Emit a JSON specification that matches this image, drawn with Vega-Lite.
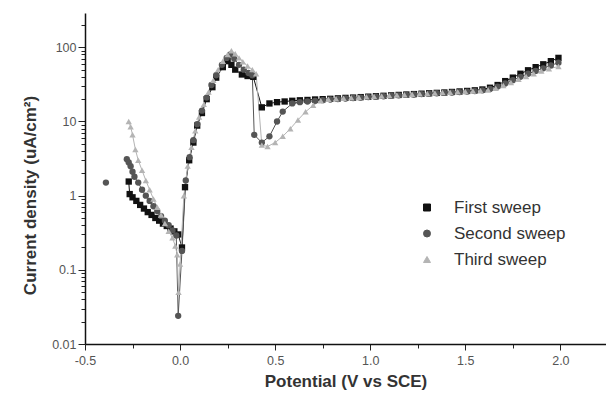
{
  "$schema": "https://vega.github.io/schema/vega-lite/v6.json",
  "width": 521,
  "height": 331,
  "autosize": {"type": "none"},
  "padding": {"left": 85, "top": 13, "right": 0, "bottom": 53},
  "background": "white",
  "view": {"stroke": null},
  "config": {"font": "Liberation Sans"},
  "data": {"values": [
    {"series":"First sweep","seg":"a","potential":-0.27,"current":1.55},
    {"series":"First sweep","seg":"a","potential":-0.265,"current":1.05},
    {"series":"First sweep","seg":"a","potential":-0.25,"current":0.95},
    {"series":"First sweep","seg":"a","potential":-0.23,"current":0.85},
    {"series":"First sweep","seg":"a","potential":-0.21,"current":0.75},
    {"series":"First sweep","seg":"a","potential":-0.19,"current":0.67},
    {"series":"First sweep","seg":"a","potential":-0.17,"current":0.6},
    {"series":"First sweep","seg":"a","potential":-0.15,"current":0.55},
    {"series":"First sweep","seg":"a","potential":-0.13,"current":0.5},
    {"series":"First sweep","seg":"a","potential":-0.11,"current":0.46},
    {"series":"First sweep","seg":"a","potential":-0.09,"current":0.42},
    {"series":"First sweep","seg":"a","potential":-0.07,"current":0.39},
    {"series":"First sweep","seg":"a","potential":-0.05,"current":0.36},
    {"series":"First sweep","seg":"a","potential":-0.03,"current":0.33},
    {"series":"First sweep","seg":"a","potential":-0.01,"current":0.3},
    {"series":"First sweep","seg":"a","potential":0.01,"current":0.2},
    {"series":"First sweep","seg":"a","potential":0.026,"current":1.3},
    {"series":"First sweep","seg":"a","potential":0.048,"current":3.0},
    {"series":"First sweep","seg":"a","potential":0.07,"current":5.2},
    {"series":"First sweep","seg":"a","potential":0.09,"current":8.8},
    {"series":"First sweep","seg":"a","potential":0.115,"current":13},
    {"series":"First sweep","seg":"a","potential":0.14,"current":20},
    {"series":"First sweep","seg":"a","potential":0.17,"current":29},
    {"series":"First sweep","seg":"a","potential":0.19,"current":39},
    {"series":"First sweep","seg":"a","potential":0.225,"current":54},
    {"series":"First sweep","seg":"a","potential":0.25,"current":65},
    {"series":"First sweep","seg":"a","potential":0.27,"current":58},
    {"series":"First sweep","seg":"a","potential":0.29,"current":50},
    {"series":"First sweep","seg":"a","potential":0.325,"current":43},
    {"series":"First sweep","seg":"a","potential":0.355,"current":41},
    {"series":"First sweep","seg":"a","potential":0.385,"current":40},
    {"series":"First sweep","seg":"a","potential":0.43,"current":15.5},
    {"series":"First sweep","seg":"a","potential":0.47,"current":17.5},
    {"series":"First sweep","seg":"a","potential":0.51,"current":18.2},
    {"series":"First sweep","seg":"a","potential":0.55,"current":18.6},
    {"series":"First sweep","seg":"a","potential":0.59,"current":19},
    {"series":"First sweep","seg":"a","potential":0.63,"current":19.3},
    {"series":"First sweep","seg":"a","potential":0.67,"current":19.5},
    {"series":"First sweep","seg":"a","potential":0.71,"current":19.8},
    {"series":"First sweep","seg":"a","potential":0.75,"current":20},
    {"series":"First sweep","seg":"a","potential":0.79,"current":20.2},
    {"series":"First sweep","seg":"a","potential":0.83,"current":20.5},
    {"series":"First sweep","seg":"a","potential":0.87,"current":20.8},
    {"series":"First sweep","seg":"a","potential":0.91,"current":21},
    {"series":"First sweep","seg":"a","potential":0.95,"current":21.3},
    {"series":"First sweep","seg":"a","potential":0.99,"current":21.6},
    {"series":"First sweep","seg":"a","potential":1.03,"current":21.9},
    {"series":"First sweep","seg":"a","potential":1.07,"current":22.2},
    {"series":"First sweep","seg":"a","potential":1.11,"current":22.5},
    {"series":"First sweep","seg":"a","potential":1.15,"current":22.8},
    {"series":"First sweep","seg":"a","potential":1.19,"current":23.1},
    {"series":"First sweep","seg":"a","potential":1.23,"current":23.4},
    {"series":"First sweep","seg":"a","potential":1.27,"current":23.7},
    {"series":"First sweep","seg":"a","potential":1.31,"current":24},
    {"series":"First sweep","seg":"a","potential":1.35,"current":24.3},
    {"series":"First sweep","seg":"a","potential":1.39,"current":24.6},
    {"series":"First sweep","seg":"a","potential":1.43,"current":25},
    {"series":"First sweep","seg":"a","potential":1.47,"current":25.4},
    {"series":"First sweep","seg":"a","potential":1.51,"current":25.8},
    {"series":"First sweep","seg":"a","potential":1.55,"current":26.3},
    {"series":"First sweep","seg":"a","potential":1.59,"current":27},
    {"series":"First sweep","seg":"a","potential":1.63,"current":28.5},
    {"series":"First sweep","seg":"a","potential":1.67,"current":31},
    {"series":"First sweep","seg":"a","potential":1.71,"current":35},
    {"series":"First sweep","seg":"a","potential":1.75,"current":39},
    {"series":"First sweep","seg":"a","potential":1.79,"current":44},
    {"series":"First sweep","seg":"a","potential":1.83,"current":49},
    {"series":"First sweep","seg":"a","potential":1.87,"current":54},
    {"series":"First sweep","seg":"a","potential":1.91,"current":59},
    {"series":"First sweep","seg":"a","potential":1.95,"current":65},
    {"series":"First sweep","seg":"a","potential":1.99,"current":72},

    {"series":"Second sweep","seg":"z","potential":-0.39,"current":1.5},
    {"series":"Second sweep","seg":"a","potential":-0.28,"current":3.1},
    {"series":"Second sweep","seg":"a","potential":-0.27,"current":2.8},
    {"series":"Second sweep","seg":"a","potential":-0.26,"current":2.5},
    {"series":"Second sweep","seg":"a","potential":-0.25,"current":2.1},
    {"series":"Second sweep","seg":"a","potential":-0.24,"current":1.8},
    {"series":"Second sweep","seg":"a","potential":-0.22,"current":1.5},
    {"series":"Second sweep","seg":"a","potential":-0.2,"current":1.2},
    {"series":"Second sweep","seg":"a","potential":-0.18,"current":1.0},
    {"series":"Second sweep","seg":"a","potential":-0.16,"current":0.85},
    {"series":"Second sweep","seg":"a","potential":-0.14,"current":0.72},
    {"series":"Second sweep","seg":"a","potential":-0.12,"current":0.62},
    {"series":"Second sweep","seg":"a","potential":-0.1,"current":0.53},
    {"series":"Second sweep","seg":"a","potential":-0.08,"current":0.46},
    {"series":"Second sweep","seg":"a","potential":-0.06,"current":0.4},
    {"series":"Second sweep","seg":"a","potential":-0.04,"current":0.34},
    {"series":"Second sweep","seg":"a","potential":-0.02,"current":0.29},
    {"series":"Second sweep","seg":"a","potential":-0.01,"current":0.024},
    {"series":"Second sweep","seg":"a","potential":0.01,"current":0.18},
    {"series":"Second sweep","seg":"a","potential":0.03,"current":1.6},
    {"series":"Second sweep","seg":"a","potential":0.05,"current":3.3},
    {"series":"Second sweep","seg":"a","potential":0.07,"current":5.6},
    {"series":"Second sweep","seg":"a","potential":0.09,"current":9.2},
    {"series":"Second sweep","seg":"a","potential":0.115,"current":14},
    {"series":"Second sweep","seg":"a","potential":0.14,"current":21},
    {"series":"Second sweep","seg":"a","potential":0.165,"current":31},
    {"series":"Second sweep","seg":"a","potential":0.19,"current":42},
    {"series":"Second sweep","seg":"a","potential":0.22,"current":58},
    {"series":"Second sweep","seg":"a","potential":0.245,"current":72},
    {"series":"Second sweep","seg":"a","potential":0.265,"current":80},
    {"series":"Second sweep","seg":"a","potential":0.285,"current":70},
    {"series":"Second sweep","seg":"a","potential":0.31,"current":58},
    {"series":"Second sweep","seg":"a","potential":0.335,"current":50},
    {"series":"Second sweep","seg":"a","potential":0.36,"current":45},
    {"series":"Second sweep","seg":"a","potential":0.38,"current":42},
    {"series":"Second sweep","seg":"a","potential":0.39,"current":6.6},
    {"series":"Second sweep","seg":"a","potential":0.43,"current":5.2},
    {"series":"Second sweep","seg":"a","potential":0.47,"current":6.3},
    {"series":"Second sweep","seg":"a","potential":0.51,"current":10},
    {"series":"Second sweep","seg":"a","potential":0.54,"current":13.6},
    {"series":"Second sweep","seg":"a","potential":0.59,"current":17.5},
    {"series":"Second sweep","seg":"a","potential":0.63,"current":18.2},
    {"series":"Second sweep","seg":"a","potential":0.67,"current":18.6},
    {"series":"Second sweep","seg":"a","potential":0.71,"current":19},
    {"series":"Second sweep","seg":"a","potential":0.75,"current":19.4},
    {"series":"Second sweep","seg":"a","potential":0.79,"current":19.8},
    {"series":"Second sweep","seg":"a","potential":0.83,"current":20.1},
    {"series":"Second sweep","seg":"a","potential":0.87,"current":20.4},
    {"series":"Second sweep","seg":"a","potential":0.91,"current":20.7},
    {"series":"Second sweep","seg":"a","potential":0.95,"current":21},
    {"series":"Second sweep","seg":"a","potential":0.99,"current":21.3},
    {"series":"Second sweep","seg":"a","potential":1.03,"current":21.6},
    {"series":"Second sweep","seg":"a","potential":1.07,"current":21.9},
    {"series":"Second sweep","seg":"a","potential":1.11,"current":22.2},
    {"series":"Second sweep","seg":"a","potential":1.15,"current":22.5},
    {"series":"Second sweep","seg":"a","potential":1.19,"current":22.8},
    {"series":"Second sweep","seg":"a","potential":1.23,"current":23.1},
    {"series":"Second sweep","seg":"a","potential":1.27,"current":23.4},
    {"series":"Second sweep","seg":"a","potential":1.31,"current":23.7},
    {"series":"Second sweep","seg":"a","potential":1.35,"current":24},
    {"series":"Second sweep","seg":"a","potential":1.39,"current":24.3},
    {"series":"Second sweep","seg":"a","potential":1.43,"current":24.6},
    {"series":"Second sweep","seg":"a","potential":1.47,"current":24.9},
    {"series":"Second sweep","seg":"a","potential":1.51,"current":25.3},
    {"series":"Second sweep","seg":"a","potential":1.55,"current":25.7},
    {"series":"Second sweep","seg":"a","potential":1.59,"current":26.3},
    {"series":"Second sweep","seg":"a","potential":1.63,"current":27.5},
    {"series":"Second sweep","seg":"a","potential":1.67,"current":29.5},
    {"series":"Second sweep","seg":"a","potential":1.71,"current":32.5},
    {"series":"Second sweep","seg":"a","potential":1.75,"current":36},
    {"series":"Second sweep","seg":"a","potential":1.79,"current":40},
    {"series":"Second sweep","seg":"a","potential":1.83,"current":44},
    {"series":"Second sweep","seg":"a","potential":1.87,"current":48},
    {"series":"Second sweep","seg":"a","potential":1.91,"current":52},
    {"series":"Second sweep","seg":"a","potential":1.95,"current":57},
    {"series":"Second sweep","seg":"a","potential":1.99,"current":62},

    {"series":"Third sweep","seg":"a","potential":-0.27,"current":10},
    {"series":"Third sweep","seg":"a","potential":-0.26,"current":8.5},
    {"series":"Third sweep","seg":"a","potential":-0.25,"current":6.6},
    {"series":"Third sweep","seg":"a","potential":-0.235,"current":4.2},
    {"series":"Third sweep","seg":"a","potential":-0.22,"current":3.0},
    {"series":"Third sweep","seg":"a","potential":-0.2,"current":2.2},
    {"series":"Third sweep","seg":"a","potential":-0.18,"current":1.6},
    {"series":"Third sweep","seg":"a","potential":-0.16,"current":1.2},
    {"series":"Third sweep","seg":"a","potential":-0.14,"current":0.9},
    {"series":"Third sweep","seg":"a","potential":-0.12,"current":0.7},
    {"series":"Third sweep","seg":"a","potential":-0.1,"current":0.55},
    {"series":"Third sweep","seg":"a","potential":-0.08,"current":0.42},
    {"series":"Third sweep","seg":"a","potential":-0.06,"current":0.33},
    {"series":"Third sweep","seg":"a","potential":-0.04,"current":0.27},
    {"series":"Third sweep","seg":"a","potential":-0.025,"current":0.21},
    {"series":"Third sweep","seg":"a","potential":-0.015,"current":0.16},
    {"series":"Third sweep","seg":"a","potential":-0.008,"current":0.05},
    {"series":"Third sweep","seg":"a","potential":0.0,"current":0.12},
    {"series":"Third sweep","seg":"a","potential":0.02,"current":1.0},
    {"series":"Third sweep","seg":"a","potential":0.04,"current":2.5},
    {"series":"Third sweep","seg":"a","potential":0.06,"current":4.5},
    {"series":"Third sweep","seg":"a","potential":0.08,"current":7.5},
    {"series":"Third sweep","seg":"a","potential":0.1,"current":11.5},
    {"series":"Third sweep","seg":"a","potential":0.125,"current":17},
    {"series":"Third sweep","seg":"a","potential":0.15,"current":25},
    {"series":"Third sweep","seg":"a","potential":0.175,"current":36},
    {"series":"Third sweep","seg":"a","potential":0.2,"current":50},
    {"series":"Third sweep","seg":"a","potential":0.225,"current":65},
    {"series":"Third sweep","seg":"a","potential":0.25,"current":80},
    {"series":"Third sweep","seg":"a","potential":0.27,"current":90},
    {"series":"Third sweep","seg":"a","potential":0.29,"current":82},
    {"series":"Third sweep","seg":"a","potential":0.31,"current":72},
    {"series":"Third sweep","seg":"a","potential":0.33,"current":64},
    {"series":"Third sweep","seg":"a","potential":0.355,"current":56},
    {"series":"Third sweep","seg":"a","potential":0.38,"current":50},
    {"series":"Third sweep","seg":"a","potential":0.4,"current":44},
    {"series":"Third sweep","seg":"a","potential":0.43,"current":4.8},
    {"series":"Third sweep","seg":"a","potential":0.46,"current":4.6},
    {"series":"Third sweep","seg":"a","potential":0.5,"current":5.2},
    {"series":"Third sweep","seg":"a","potential":0.54,"current":6.3},
    {"series":"Third sweep","seg":"a","potential":0.58,"current":8},
    {"series":"Third sweep","seg":"a","potential":0.62,"current":10.5},
    {"series":"Third sweep","seg":"a","potential":0.66,"current":13.5},
    {"series":"Third sweep","seg":"a","potential":0.7,"current":16.5},
    {"series":"Third sweep","seg":"a","potential":0.74,"current":19},
    {"series":"Third sweep","seg":"a","potential":0.78,"current":20},
    {"series":"Third sweep","seg":"a","potential":0.82,"current":20.3},
    {"series":"Third sweep","seg":"a","potential":0.86,"current":20.6},
    {"series":"Third sweep","seg":"a","potential":0.9,"current":20.9},
    {"series":"Third sweep","seg":"a","potential":0.94,"current":21.2},
    {"series":"Third sweep","seg":"a","potential":0.98,"current":21.5},
    {"series":"Third sweep","seg":"a","potential":1.02,"current":21.8},
    {"series":"Third sweep","seg":"a","potential":1.06,"current":22.1},
    {"series":"Third sweep","seg":"a","potential":1.1,"current":22.4},
    {"series":"Third sweep","seg":"a","potential":1.14,"current":22.7},
    {"series":"Third sweep","seg":"a","potential":1.18,"current":23},
    {"series":"Third sweep","seg":"a","potential":1.22,"current":23.3},
    {"series":"Third sweep","seg":"a","potential":1.26,"current":23.6},
    {"series":"Third sweep","seg":"a","potential":1.3,"current":23.9},
    {"series":"Third sweep","seg":"a","potential":1.34,"current":24.2},
    {"series":"Third sweep","seg":"a","potential":1.38,"current":24.5},
    {"series":"Third sweep","seg":"a","potential":1.42,"current":24.8},
    {"series":"Third sweep","seg":"a","potential":1.46,"current":25.1},
    {"series":"Third sweep","seg":"a","potential":1.5,"current":25.4},
    {"series":"Third sweep","seg":"a","potential":1.54,"current":25.7},
    {"series":"Third sweep","seg":"a","potential":1.58,"current":26},
    {"series":"Third sweep","seg":"a","potential":1.62,"current":26.5},
    {"series":"Third sweep","seg":"a","potential":1.66,"current":28},
    {"series":"Third sweep","seg":"a","potential":1.7,"current":30.5},
    {"series":"Third sweep","seg":"a","potential":1.74,"current":33.5},
    {"series":"Third sweep","seg":"a","potential":1.78,"current":37},
    {"series":"Third sweep","seg":"a","potential":1.82,"current":40.5},
    {"series":"Third sweep","seg":"a","potential":1.86,"current":44},
    {"series":"Third sweep","seg":"a","potential":1.9,"current":48},
    {"series":"Third sweep","seg":"a","potential":1.94,"current":51.5},
    {"series":"Third sweep","seg":"a","potential":1.99,"current":55}
  ]},
  "encoding": {
    "x": {
      "field": "potential", "type": "quantitative",
      "scale": {"domain": [-0.5, 2.24], "nice": false, "zero": false},
      "axis": {
        "title": "Potential (V vs SCE)",
        "values": [-0.5,-0.25,0,0.25,0.5,0.75,1,1.25,1.5,1.75,2,2.25],
        "labelExpr": "abs(datum.value*2 - round(datum.value*2)) < 0.001 ? replace(format(datum.value, '.1f'), '\u2212', '-') : ''",
        "grid": false, "domainColor": "#111", "domainWidth": 1.5,
        "tickColor": "#222", "tickWidth": 1,
        "tickSize": {"condition": {"test": "abs(datum.value*2 - round(datum.value*2)) < 0.001", "value": 6}, "value": 4},
        "labelFontSize": 12.5, "labelColor": "#555", "labelPadding": 4, "labelFlush": false,
        "titleFontSize": 17, "titleFontWeight": "bold", "titleColor": "#333", "titlePadding": 7
      }
    },
    "y": {
      "field": "current", "type": "quantitative",
      "scale": {"type": "log", "domain": [0.01, 290], "nice": false},
      "axis": {
        "title": "Current density (uA/cm\u00b2)",
        "values": [0.01,0.02,0.03,0.04,0.05,0.06,0.07,0.08,0.09,0.1,0.2,0.3,0.4,0.5,0.6,0.7,0.8,0.9,1,2,3,4,5,6,7,8,9,10,20,30,40,50,60,70,80,90,100,200],
        "labelExpr": "abs(log(datum.value)/log(10) - round(log(datum.value)/log(10))) < 0.001 ? format(datum.value, '~g') : ''",
        "grid": false, "domainColor": "#111", "domainWidth": 1.5,
        "tickColor": "#222", "tickWidth": 1,
        "tickSize": {"condition": {"test": "abs(log(datum.value)/log(10) - round(log(datum.value)/log(10))) < 0.001", "value": 7}, "value": 4},
        "labelFontSize": 12.5, "labelColor": "#555", "labelPadding": 2, "labelFlush": false,
        "titleFontSize": 17, "titleFontWeight": "bold", "titleColor": "#333", "titlePadding": 12, "titleY": 182
      }
    },
    "color": {
      "field": "series", "type": "nominal",
      "scale": {"domain": ["First sweep","Second sweep","Third sweep"], "range": ["#111111","#555555","#b4b4b4"]},
      "legend": {
        "title": null, "orient": "none", "legendX": 333.5, "legendY": 186,
        "labelFontSize": 17, "labelColor": "#333", "labelOffset": 18.5,
        "symbolSize": 49, "symbolStrokeWidth": 1, "rowPadding": 8, "padding": 0,
        "encode": {
          "symbols": {
            "update": {
              "shape": {"signal": "datum.value === 'First sweep' ? 'M-6.7,0H6.7M-0.9,-0.9H0.9V0.9H-0.9Z' : (datum.value === 'Second sweep' ? 'M-6.7,0H6.7M-0.9,0A0.9,0.9 0 1,0 0.9,0A0.9,0.9 0 1,0 -0.9,0Z' : 'M-6.7,0H6.7M-0.9,0.8L0,-0.85L0.9,0.8Z')"},
              "strokeWidth": {"value": 1}
            }
          }
        }
      }
    }
  },
  "layer": [
    {
      "mark": {"type": "line", "strokeWidth": 1, "clip": true},
      "encoding": {"detail": {"field": "seg", "type": "nominal"}}
    },
    {
      "mark": {"type": "point", "filled": true, "opacity": 1, "size": 40, "clip": true},
      "encoding": {
        "shape": {
          "field": "series", "type": "nominal",
          "scale": {"domain": ["First sweep","Second sweep","Third sweep"], "range": ["square","circle","triangle-up"]},
          "legend": null
        }
      }
    },
    {
      "data": {"values": [{}]},
      "mark": {"type": "rule", "color": "#444", "strokeWidth": 2},
      "encoding": {"y": {"datum": 290}, "x": null, "color": null}
    }
  ]
}
